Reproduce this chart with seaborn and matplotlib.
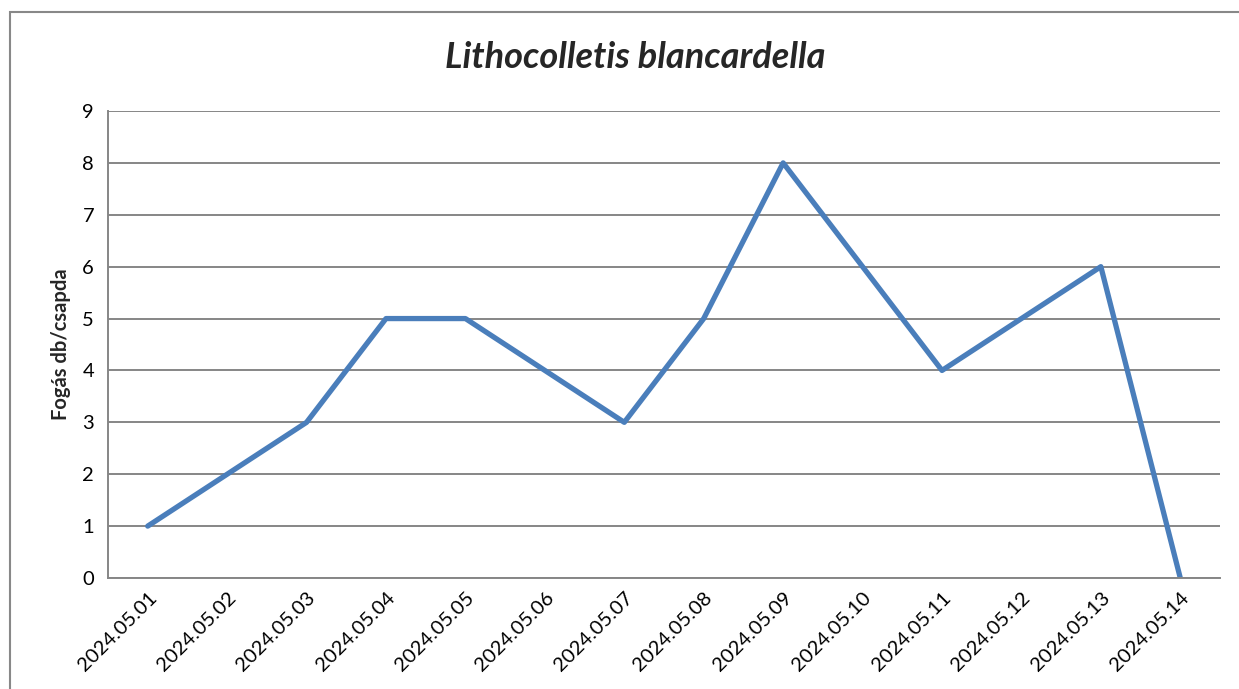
import pandas as pd
import matplotlib.pyplot as plt
import seaborn as sns
from matplotlib.patches import Rectangle

# data
dates = ['2024.05.01', '2024.05.02', '2024.05.03', '2024.05.04', '2024.05.05',
         '2024.05.06', '2024.05.07', '2024.05.08', '2024.05.09', '2024.05.10',
         '2024.05.11', '2024.05.12', '2024.05.13', '2024.05.14']
catches = [1, 2, 3, 5, 5, 4, 3, 5, 8, 6, 4, 5, 6, 0]

df = pd.DataFrame({'Date': dates, 'Catch': catches})

sns.set_style('white')
plt.rcParams['font.family'] = ['Lato', 'DejaVu Sans']

fig = plt.figure(figsize=(12.39, 6.89), dpi=100)
ax = fig.add_axes([108 / 1239, 1 - 578 / 689, 1112 / 1239, 467 / 689])

sns.lineplot(data=df, x='Date', y='Catch', sort=False, color='#4A7EBB',
             linewidth=3.8, ax=ax)

ax.set_xlim(-0.5, len(dates) - 0.5)
ax.set_ylim(0, 9)
ax.set_yticks(range(0, 10))
ax.set_xticks(range(len(dates)))
ax.set_xticklabels(dates, rotation=45, ha='right', rotation_mode='anchor')
ax.tick_params(axis='both', labelsize=14.5, length=0, pad=10, labelcolor='black')
ax.tick_params(axis='x', pad=8)

ax.grid(axis='y', color='#868686', linewidth=1.4)
ax.set_axisbelow(True)
for s in ['left', 'bottom']:
    ax.spines[s].set_color('#868686')
    ax.spines[s].set_linewidth(1.4)
ax.spines['right'].set_visible(False)
ax.spines['top'].set_visible(False)

ax.set_xlabel('')
ax.set_ylabel('Fogás db/csapda', fontsize=14.5, fontweight='bold', labelpad=8)

fig.text(635 / 1239, 1 - 57 / 689, 'Lithocolletis blancardella', ha='center',
         va='center', fontsize=26, fontweight='bold', fontstyle='italic')

# outer chart border (cut off at right and bottom)
fig.patches.append(Rectangle((10 / 1239, -0.1), 1.2, 1 - 12 / 689 + 0.1,
                             transform=fig.transFigure, fill=False,
                             edgecolor='#888888', linewidth=1.5))

fig.savefig('out.png', dpi=100)
